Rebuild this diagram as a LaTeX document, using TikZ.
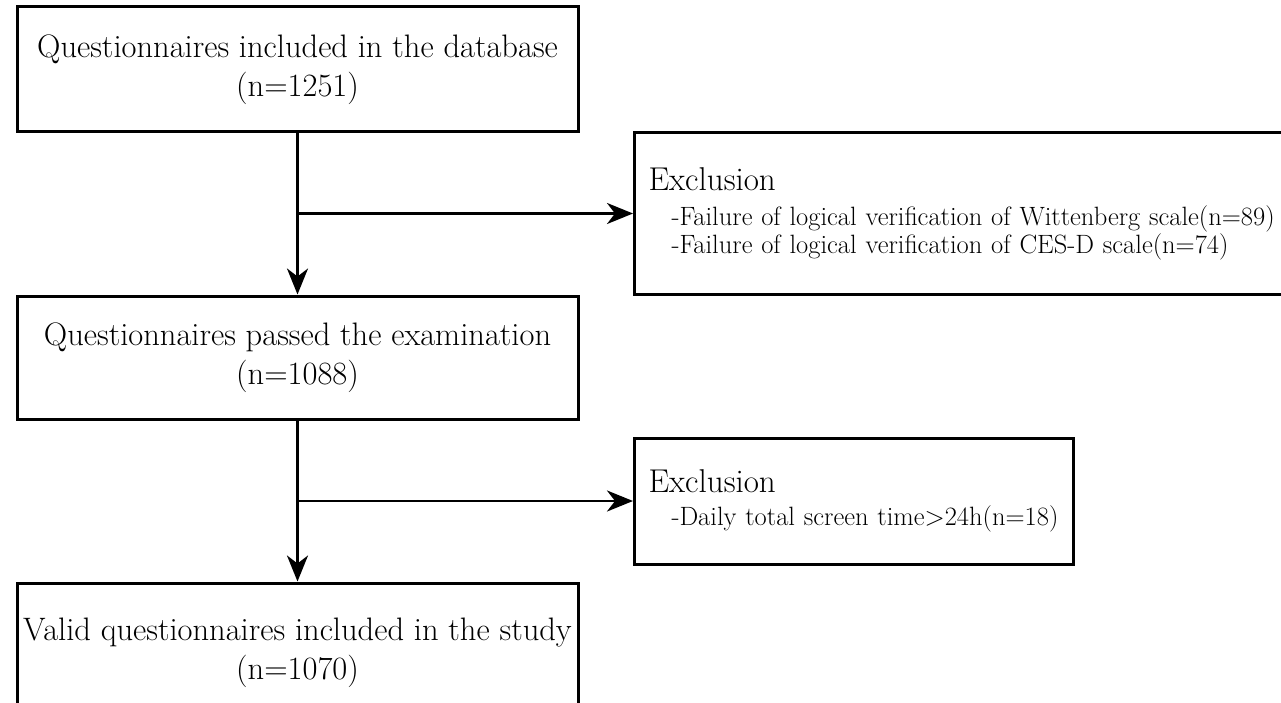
\documentclass[tikz,border=0pt]{standalone}
\usetikzlibrary{arrows.meta}

\tikzset{
  stage/.style={draw, line width=3pt, inner sep=0pt, align=center,
    minimum width=561pt, font=\fontsize{32.5}{39}\selectfont},
  exclusion/.style={draw, line width=3pt, anchor=west, align=left,
    inner xsep=14pt, font=\fontsize{26.5}{28}\selectfont},
  flow/.style={line width=2.8pt, -{Stealth[length=26pt,width=21pt,inset=8pt]}}
}
\newcommand{\exhead}{{\fontsize{33}{28}\selectfont Exclusion}}
\newcommand{\exitem}[1]{\mbox{\hspace*{23pt}#1}}

\begin{document}
\begin{tikzpicture}[x=1pt, y=-1pt]
    \useasboundingbox (0,0) rectangle (1281,703);

    % Main stages
    \node[stage, minimum height=125pt] (dbase) at (297.5,69.5)
      {Questionnaires included in the database\\(n=1251)};
    \node[stage, minimum height=123pt] (passed) at (297.5,357.5)
      {Questionnaires passed the examination\\(n=1088)};
    \node[stage, minimum height=140pt] (valid) at (297.5,653)
      {Valid questionnaires included in the study\\(n=1070)};

    % Exclusions
    \node[exclusion, minimum height=161pt, text width=629pt] (exlogic) at (633,213.5)
      {\exhead\\[7pt]
       \exitem{-Failure of logical verification of Wittenberg scale(n=89)}\\
       \exitem{-Failure of logical verification of CES-D scale(n=74)}};
    \node[exclusion, minimum height=126pt, text width=411pt] (exscreen) at (633,501)
      {\exhead\\[5pt]
       \exitem{-Daily total screen time>24h(n=18)}};

    % Flow
    \coordinate (split1) at (dbase.south |- exlogic.west);
    \coordinate (split2) at (passed.south |- exscreen.west);
    \draw[flow] (dbase.south) -- (passed.north);
    \draw[flow] (split1) -- (exlogic.west);
    \draw[flow] (passed.south) -- (valid.north);
    \draw[flow] (split2) -- (exscreen.west);
\end{tikzpicture}
\end{document}
